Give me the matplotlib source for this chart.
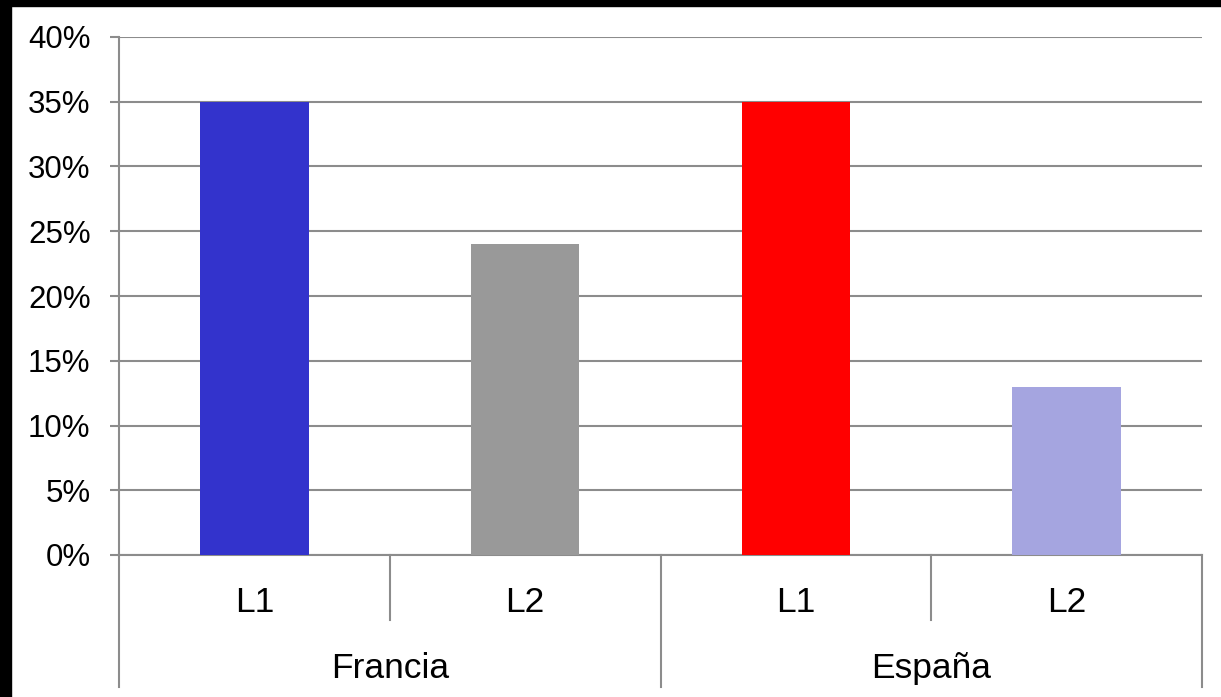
import matplotlib.pyplot as plt
from matplotlib.patches import Rectangle

paises = ['Francia', 'España']
niveles = ['L1', 'L2', 'L1', 'L2']
valores = [35, 24, 35, 13]
colores = ['#3333CC', '#999999', '#FF0000', '#A5A5E0']

plt.rcParams['font.family'] = ['Liberation Sans', 'DejaVu Sans']

W, H = 1221, 697
fig = plt.figure(figsize=(W / 100, H / 100), dpi=100)
fig.patch.set_facecolor('white')

# borde negro arriba e izquierda
fig.patches.append(Rectangle((0, 0), 11 / W, 1, transform=fig.transFigure, color='black', zorder=0))
fig.patches.append(Rectangle((0, 1 - 6 / H), 1, 6 / H, transform=fig.transFigure, color='black', zorder=0))

x0, x1 = 119, 1202
y0, y1 = 555, 37
ax = fig.add_axes([x0 / W, 1 - y0 / H, (x1 - x0) / W, (y0 - y1) / H])

gris = '#8C8C8C'
fs = 22.5
fs_cat = 25.5
pos = list(range(len(valores)))
ax.bar(pos, valores, width=0.4, color=colores, zorder=3)
ax.set_xlim(-0.5, len(valores) - 0.5)
ax.set_ylim(0, 40)
ax.set_yticks(range(0, 41, 5))
ax.set_yticklabels([f'{v}%' for v in range(0, 41, 5)], fontsize=fs)
ax.yaxis.grid(True, color=gris, linewidth=1.5, zorder=0)
ax.tick_params(axis='y', length=6.5, width=1.5, color=gris, pad=14)
ax.set_xticks([])
for s in ['top', 'right']:
    ax.spines[s].set_visible(False)
ax.spines['left'].set_color(gris)
ax.spines['left'].set_linewidth(1.5)
ax.spines['bottom'].set_color(gris)
ax.spines['bottom'].set_linewidth(1.5)

tr = ax.get_xaxis_transform()
px = 1 / (y0 - y1)  # un pixel en coordenadas de eje
# divisores del eje de categorías
for i in range(len(valores) + 1):
    xd = i - 0.5
    largo = 132 if i % 2 == 0 else 65
    ax.plot([xd, xd], [0, -largo * px], transform=tr, color=gris, lw=1.5, clip_on=False)
for i, n in enumerate(niveles):
    ax.text(i, -57 * px, n, transform=tr, ha='center', va='baseline', fontsize=fs_cat)
for j, p in enumerate(paises):
    ax.text(2 * j + 0.5, -123 * px, p, transform=tr, ha='center', va='baseline', fontsize=fs_cat)

fig.savefig('out.png', dpi=100)
